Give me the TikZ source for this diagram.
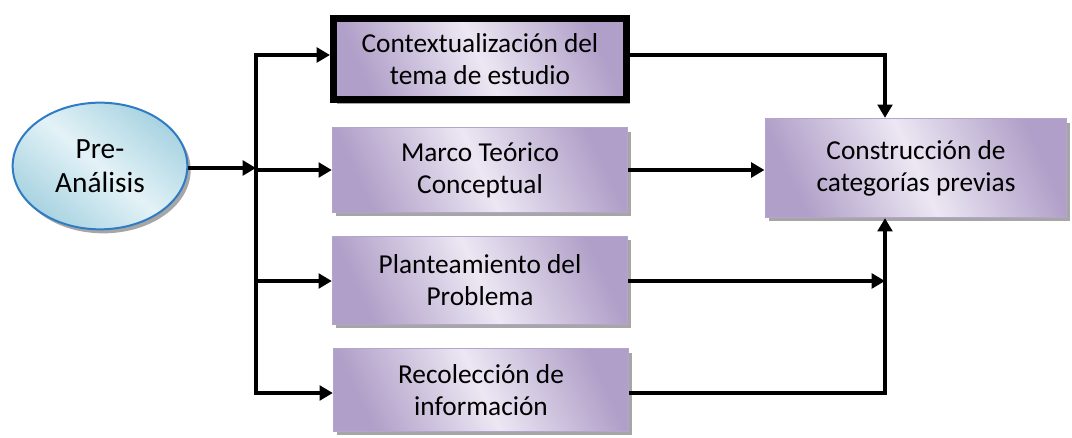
\documentclass[tikz,border=0pt]{standalone}
\usepackage{fontspec}
\setmainfont{Carlito}
\usetikzlibrary{arrows.meta,shadows,calc,shapes.geometric}
\definecolor{purD}{HTML}{B09FC8}
\definecolor{purL}{HTML}{ECE7F3}
\definecolor{purLine}{HTML}{B4A5CC}
\definecolor{bluD}{HTML}{A8D3E1}
\definecolor{bluL}{HTML}{E3F2F7}
\definecolor{bluLine}{HTML}{2F7CC4}
\tikzset{
  stepbox/.style={rectangle, draw=purLine, line width=1.2pt,
    top color=purD, bottom color=purD, middle color=purL, shading angle=-65,
    drop shadow={shadow xshift=2.5pt, shadow yshift=-3pt, fill=black!35, opacity=1},
    align=center, font=\fontsize{20.5}{24}\selectfont, inner sep=0pt},
  startell/.style={ellipse, draw=bluLine, line width=1.5pt,
    top color=bluD, bottom color=bluD, middle color=bluL, shading angle=-40,
    drop shadow={shadow xshift=2.5pt, shadow yshift=-3pt, fill=black!35, opacity=1},
    align=center, font=\fontsize{22}{25.5}\selectfont, inner sep=0pt,
    minimum width=131pt, minimum height=95pt},
  conn/.style={line width=3pt, -{Triangle[length=10pt,width=11pt]}},
  plain/.style={line width=3pt},
}
\begin{document}
\begin{tikzpicture}[x=0.75pt,y=-0.75pt]
\useasboundingbox (0,0) rectangle (1072,438);
\node[startell] (pre) at (100,166) {Pre-\\Análisis};
\node[stepbox, minimum width=220pt, minimum height=61pt, draw=black, line width=5pt] (b1) at (480,59) {Contextualización del\\tema de estudio};
\node[stepbox, minimum width=221pt, minimum height=63.5pt] (b2) at (480,170) {Marco Teórico\\Conceptual};
\node[stepbox, minimum width=221pt, minimum height=66pt] (b3) at (480,280.5) {Planteamiento del\\Problema};
\node[stepbox, minimum width=221pt, minimum height=62pt] (b4) at (481,390) {Recolección de\\información};
\node[stepbox, minimum width=226pt, minimum height=74pt] (c) at (916,168) {Construcción de\\categorías previas};
% trunk
\coordinate (t1) at (256,55);
\coordinate (t0) at (256,168);
\coordinate (t2) at (256,170);
\coordinate (t3) at (256,281);
\coordinate (t4) at (256,393);
\coordinate (vx) at (885,55);
\draw[plain, line cap=rect] (t1) -- (t4);
\draw[conn] (pre.east |- t0) -- (t0);
\draw[conn] (t1) -- (t1 -| b1.west);
\draw[conn] (t2) -- (t2 -| b2.west);
\draw[conn] (t3) -- (t3 -| b3.west);
\draw[conn] (t4) -- (t4 -| b4.west);
% right side
\draw[line width=2.4pt, -{Triangle[length=10pt,width=11pt]}] (t1 -| b1.east) -- (vx) -- (vx |- c.north);
\draw[conn] (b2.east) -- (b2.east -| c.west);
\draw[conn] (t3 -| b3.east) -- (t3 -| vx);
\draw[conn] (t4 -| b4.east) -- (t4 -| vx) -- (vx |- c.south);
\end{tikzpicture}
\end{document}
